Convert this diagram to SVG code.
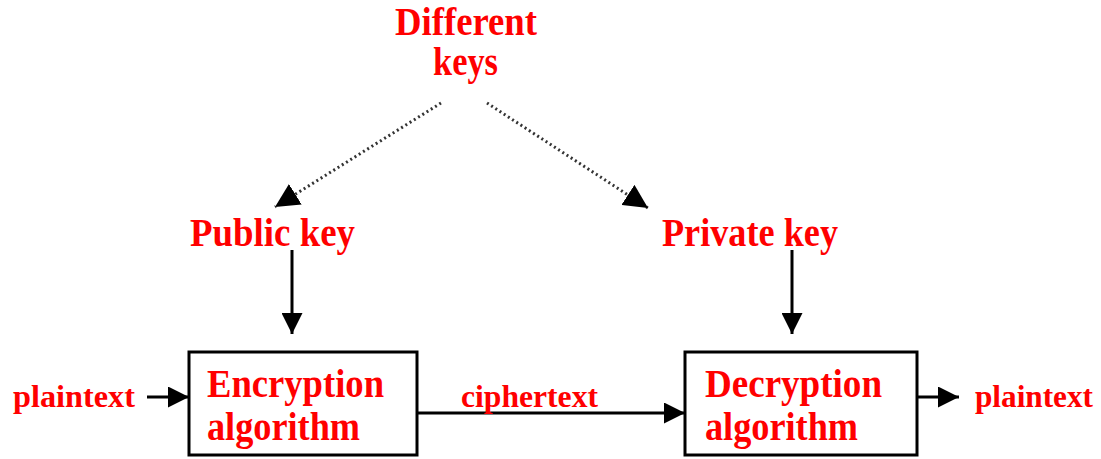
<svg xmlns="http://www.w3.org/2000/svg" width="1101" height="459" viewBox="0 0 1101 459">
<style>
.t{font-family:"Liberation Serif","Times New Roman",serif;font-weight:bold;fill:#ff0000}
.big{font-size:40px}
.sm{font-size:32px}
.box{fill:#fff;stroke:#000;stroke-width:3}
.ln{stroke:#000;stroke-width:3;fill:none}
.dot{stroke:#333;stroke-width:3;stroke-dasharray:2 3;fill:none}
</style>
<defs>
<marker id="ah" viewBox="0 0 10 10" refX="10" refY="5" markerWidth="7" markerHeight="7" markerUnits="strokeWidth" orient="auto">
<path d="M0,0 L10,5 L0,10 Z" fill="#000"/>
</marker>
<marker id="ahd" viewBox="0 0 10 10" refX="10" refY="5" markerWidth="8" markerHeight="8" markerUnits="strokeWidth" orient="auto">
<path d="M0,0 L10,5 L0,10 Z" fill="#000"/>
</marker>
</defs>
<g id="connectors">
<line class="dot" x1="441" y1="103" x2="275" y2="207" marker-end="url(#ahd)"/>
<line class="dot" x1="487" y1="103" x2="648" y2="208" marker-end="url(#ahd)"/>
<line class="ln" x1="292" y1="250" x2="292" y2="334" marker-end="url(#ah)"/>
<line class="ln" x1="792" y1="250" x2="792" y2="334" marker-end="url(#ah)"/>
<line class="ln" x1="147" y1="397" x2="189" y2="397" marker-end="url(#ah)"/>
<line class="ln" x1="417" y1="413" x2="685" y2="413" marker-end="url(#ah)"/>
<line class="ln" x1="917" y1="397" x2="959" y2="397" marker-end="url(#ah)"/>
</g>
<g id="different-keys">
<text class="t big" x="395" y="35" textLength="142" lengthAdjust="spacingAndGlyphs">Different</text>
<text class="t big" x="433" y="75" textLength="65" lengthAdjust="spacingAndGlyphs">keys</text>
</g>
<g id="public-key">
<text class="t big" x="190" y="246" textLength="165" lengthAdjust="spacingAndGlyphs">Public key</text>
</g>
<g id="private-key">
<text class="t big" x="662" y="246" textLength="176" lengthAdjust="spacingAndGlyphs">Private key</text>
</g>
<g id="encryption">
<rect class="box" x="189" y="352" width="228" height="103"/>
<text class="t big" x="207" y="397" textLength="177" lengthAdjust="spacingAndGlyphs">Encryption</text>
<text class="t big" x="207" y="440" textLength="153" lengthAdjust="spacingAndGlyphs">algorithm</text>
</g>
<g id="decryption">
<rect class="box" x="685" y="352" width="232" height="103"/>
<text class="t big" x="705" y="397" textLength="177" lengthAdjust="spacingAndGlyphs">Decryption</text>
<text class="t big" x="705" y="440" textLength="153" lengthAdjust="spacingAndGlyphs">algorithm</text>
</g>
<g id="plaintext-in">
<text class="t sm" x="13" y="407" textLength="122" lengthAdjust="spacingAndGlyphs">plaintext</text>
</g>
<g id="ciphertext">
<text class="t sm" x="461" y="407" textLength="137" lengthAdjust="spacingAndGlyphs">ciphertext</text>
</g>
<g id="plaintext-out">
<text class="t sm" x="975" y="407" textLength="118" lengthAdjust="spacingAndGlyphs">plaintext</text>
</g>
</svg>
